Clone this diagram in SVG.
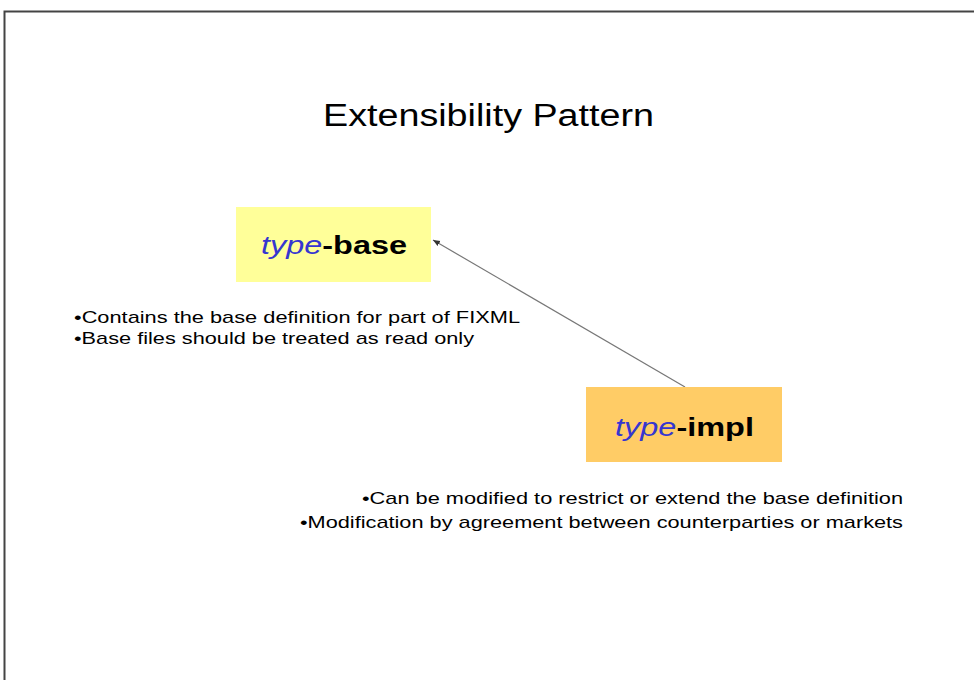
<svg xmlns="http://www.w3.org/2000/svg" width="974" height="680" viewBox="0 0 974 680">
<defs>
<style>
.t{font-family:"Liberation Sans",Arial,sans-serif;fill:#000}
.node{font-family:"Liberation Sans",Arial,sans-serif;font-size:25.5px;font-weight:bold;fill:#000}
.it{font-style:italic;font-weight:normal;fill:#3636d0}
.b{font-size:17px}
</style>
<marker id="ah" markerWidth="8" markerHeight="8" refX="7" refY="4" orient="auto" markerUnits="userSpaceOnUse">
<path d="M0,1 L7,4 L0,7 z" fill="#333"/>
</marker>
</defs>
<rect x="0" y="0" width="974" height="680" fill="#fff"/>
<path d="M4.5,680 V11.5 H974" fill="none" stroke="#444" stroke-width="2"/>
<text class="t" x="323" y="126" font-size="31" textLength="331" lengthAdjust="spacingAndGlyphs">Extensibility Pattern</text>
<g id="connectors">
<line x1="685" y1="387" x2="433" y2="240" stroke="#777" stroke-width="1.2" marker-end="url(#ah)"/>
</g>
<g id="type-base">
<rect x="236" y="207" width="195" height="75" fill="#ffff99"/>
<text class="node" x="261" y="254" textLength="146" lengthAdjust="spacingAndGlyphs"><tspan class="it">type</tspan>-base</text>
</g>
<g id="type-impl">
<rect x="586" y="387" width="196" height="75" fill="#ffcc66"/>
<text class="node" x="615" y="436" textLength="139" lengthAdjust="spacingAndGlyphs"><tspan class="it">type</tspan>-impl</text>
</g>
<g id="base-notes">
<text class="t b" x="74" y="323" textLength="446" lengthAdjust="spacingAndGlyphs">•Contains the base definition for part of FIXML</text>
<text class="t b" x="74" y="344" textLength="400" lengthAdjust="spacingAndGlyphs">•Base files should be treated as read only</text>
</g>
<g id="impl-notes">
<text class="t b" x="362" y="504" textLength="541" lengthAdjust="spacingAndGlyphs">•Can be modified to restrict or extend the base definition</text>
<text class="t b" x="300" y="528" textLength="603" lengthAdjust="spacingAndGlyphs">•Modification by agreement between counterparties or markets</text>
</g>
</svg>
